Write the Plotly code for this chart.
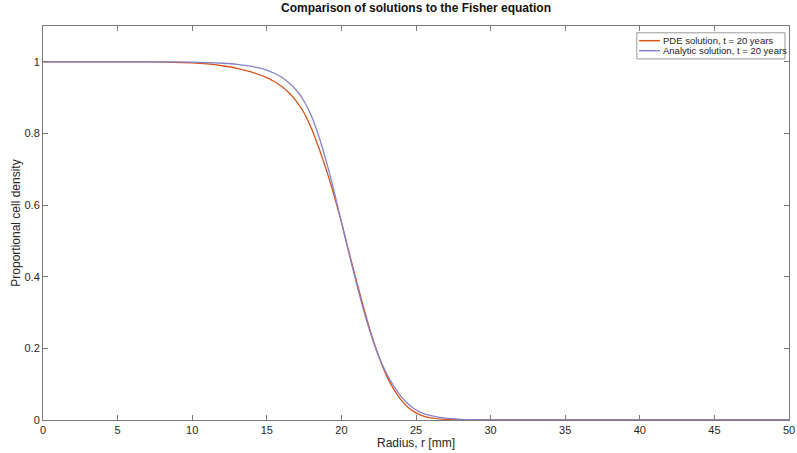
import plotly.graph_objects as go

radius = [0, 2, 4, 6, 8, 10, 11, 12, 13, 14, 15, 15.5, 16, 16.5, 17, 17.5, 18, 18.5, 19, 19.5,
          20, 20.5, 21, 21.5, 22, 22.5, 23, 23.5, 24, 24.5, 25, 25.5, 26, 27, 28, 29, 30, 32, 35, 40, 45, 50]

pde = [1, 1, 1, 1, 0.999, 0.997, 0.994, 0.989, 0.982, 0.971, 0.956, 0.945, 0.931, 0.913, 0.889, 0.857,
       0.813, 0.758, 0.697, 0.628, 0.553, 0.47, 0.39, 0.312, 0.24, 0.178, 0.126, 0.086, 0.056, 0.034,
       0.02, 0.011, 0.006, 0.0015, 0.0004, 0.0001, 0, 0, 0, 0, 0, 0]

analytic = [1, 1, 1, 1, 1, 0.999, 0.998, 0.996, 0.993, 0.987, 0.977, 0.968, 0.957, 0.941, 0.92, 0.89,
            0.848, 0.79, 0.72, 0.64, 0.553, 0.466, 0.383, 0.305, 0.236, 0.178, 0.132, 0.095, 0.066, 0.044,
            0.028, 0.018, 0.012, 0.005, 0.002, 0.0008, 0.0003, 0.0001, 0, 0, 0, 0]

series_names = ["PDE solution, t = 20 years", "Analytic solution, t = 20 years"]
series_colors = ["#D95319", "#8383CC"]

x_ticks = [0, 5, 10, 15, 20, 25, 30, 35, 40, 45, 50]
y_ticks = [0, 0.2, 0.4, 0.6, 0.8, 1]
y_ticktext = ["0", "0.2", "0.4", "0.6", "0.8", "1"]

fig = go.Figure()
for name, vals, col in zip(series_names, [pde, analytic], series_colors):
    fig.add_trace(go.Scatter(x=radius, y=vals, mode="lines", name=name,
                             line=dict(color=col, width=1.3, shape="spline", smoothing=0.6)))

axis_color = "#7a7a7a"
font_family = "Liberation Sans, Arial, sans-serif"

# Legend drawn in data coordinates (top-right box)
leg_x0, leg_x1, leg_y0, leg_y1 = 39.8, 49.73, 1.008, 1.081
leg_rows = [1.059, 1.031]
shapes = [dict(type="rect", xref="x", yref="y", x0=leg_x0, x1=leg_x1, y0=leg_y0, y1=leg_y1,
               line=dict(color="#999", width=1), fillcolor="white", layer="above")]
annotations = []
for name, col, yy in zip(series_names, series_colors, leg_rows):
    shapes.append(dict(type="line", xref="x", yref="y", x0=39.95, x1=41.35, y0=yy, y1=yy,
                       line=dict(color=col, width=1.5), layer="above"))
    annotations.append(dict(x=41.4, y=yy, xref="x", yref="y", text=name, showarrow=False,
                            xanchor="left", yanchor="middle", font=dict(size=9.5, color="#222")))

fig.update_layout(
    width=797, height=453,
    margin=dict(l=43, r=8, t=26, b=33),
    paper_bgcolor="white", plot_bgcolor="white",
    font=dict(family=font_family, size=11, color="#262626"),
    title=dict(text="<b>Comparison of solutions to the Fisher equation</b>",
               x=0.5, xref="paper", xanchor="center", y=1, yref="container", yanchor="top",
               pad=dict(t=4), font=dict(size=12, color="#111")),
    showlegend=False,
    shapes=shapes,
    annotations=annotations,
)
fig.update_xaxes(range=[0, 50], tickvals=x_ticks, ticks="inside", ticklen=5, tickcolor=axis_color,
                 showline=True, linecolor=axis_color, linewidth=1, mirror="ticks", showgrid=False,
                 zeroline=False, automargin=False,
                 title=dict(text="Radius, r [mm]", standoff=2, font=dict(size=12)),
                 tickfont=dict(size=11))
fig.update_yaxes(range=[0, 1.1], tickvals=y_ticks, ticktext=y_ticktext, ticks="inside", ticklen=5,
                 tickcolor=axis_color, showline=True, linecolor=axis_color, linewidth=1, mirror="ticks",
                 showgrid=False, zeroline=False, automargin=False,
                 title=dict(text="Proportional cell density", standoff=1, font=dict(size=12)),
                 tickfont=dict(size=11))

fig.write_html("out.html")
